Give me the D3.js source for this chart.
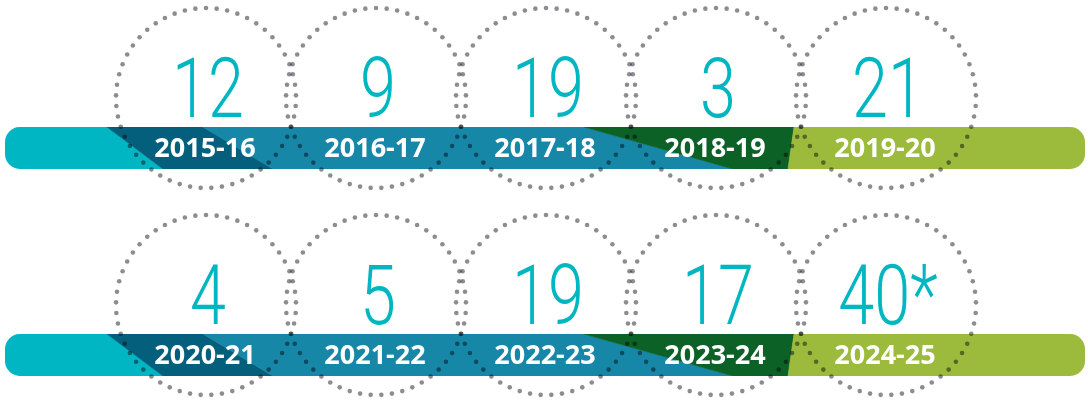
<!DOCTYPE html>
<html>
<head>
<meta charset="utf-8">
<script src="https://cdn.jsdelivr.net/npm/d3@7"></script>
<style>
  body { margin: 0; background: #fff; }
  svg { display: block; }
</style>
</head>
<body>
<script>
// data
const years = ["2015-16", "2016-17", "2017-18", "2018-19", "2019-20",
               "2020-21", "2021-22", "2022-23", "2023-24", "2024-25"];
const counts = [12, 9, 19, 3, 21, 4, 5, 19, 17, 40];
const notes = ["", "", "", "", "", "", "", "", "", "*"];

const W = 1088, H = 401,
    perRow = 5,
    barX0 = 5, barX1 = 1085, barH = 42, barR = 15,
    ringR = 90, nDots = 53, dotR = 2.3;

const rows = d3.range(Math.ceil(years.length / perRow));

// bar stripe colours and slanted boundaries (top x, bottom x)
const stripes = [
  {c: "#00b6c3", top: 107, bot: 163},
  {c: "#035f7c", top: 203, bot: 273},
  {c: "#1787a8", top: 584, bot: 733},
  {c: "#0c6127", top: 794, bot: 788},
  {c: "#9cbb3c", top: 1088, bot: 1088}
];

const svg = d3.select("body").append("svg")
    .attr("width", W).attr("height", H);

const xs = d3.scalePoint().domain(d3.range(perRow)).range([206, 886]);
const ys = d3.scalePoint().domain(rows).range([127, 334]);   // bar top per row

svg.append("defs").selectAll("clipPath").data(rows).join("clipPath")
    .attr("id", d => "bar" + d)
  .append("rect")
    .attr("x", barX0).attr("y", d => ys(d))
    .attr("width", barX1 - barX0).attr("height", barH)
    .attr("rx", barR);

// bars
const bars = svg.selectAll("g.bar").data(rows).join("g")
    .attr("class", "bar")
    .attr("clip-path", d => "url(#bar" + d + ")");

bars.each(function(r) {
  const y0 = ys(r), y1 = y0 + barH;
  let prev = {top: 0, bot: 0};
  d3.select(this).selectAll("path").data(stripes).join("path")
    .attr("d", s => {
      const p = prev; prev = s;
      return "M" + p.top + "," + y0 + "L" + s.top + "," + y0 +
             "L" + s.bot + "," + y1 + "L" + p.bot + "," + y1 + "Z";
    })
    .attr("fill", s => s.c)
    .attr("stroke", s => s.c).attr("stroke-width", 0.6);
});

// cells
const cells = years.map((y, i) => ({
  year: y, n: counts[i], note: notes[i],
  cx: xs(i % perRow), row: Math.floor(i / perRow)
}));

const g = svg.selectAll("g.cell").data(cells).join("g").attr("class", "cell");

g.append("text")
    .attr("transform", d => "translate(" + (d.cx + 2) + "," + (ys(d.row) - 10) + ") scale(0.78,1)")
    .attr("text-anchor", "middle")
    .style("font-family", "Roboto, sans-serif")
    .style("font-weight", 300)
    .style("font-size", "83px")
    .attr("fill", "#00b7c1")
    .text(d => d.n + d.note);

g.append("text")
    .attr("x", d => d.cx - 1)
    .attr("y", d => ys(d.row) + barH / 2 + 9)
    .attr("text-anchor", "middle")
    .style("font-family", "'Open Sans', sans-serif")
    .style("font-weight", 700)
    .style("font-size", "27px")
    .attr("fill", "#fff")
    .text(d => d.year);

// dotted rings
const ang = d3.range(nDots).map(k => k / nDots * 2 * Math.PI);
g.each(function(d) {
  const cy = ys(d.row) + barH / 2 - 50;
  d3.select(this).append("g")
    .style("mix-blend-mode", "multiply")
    .selectAll("circle").data(ang).join("circle")
      .attr("cx", a => d.cx + ringR * Math.sin(a))
      .attr("cy", a => cy - ringR * Math.cos(a))
      .attr("r", dotR)
      .attr("fill", "#8c8c92");
});
</script>
</body>
</html>
